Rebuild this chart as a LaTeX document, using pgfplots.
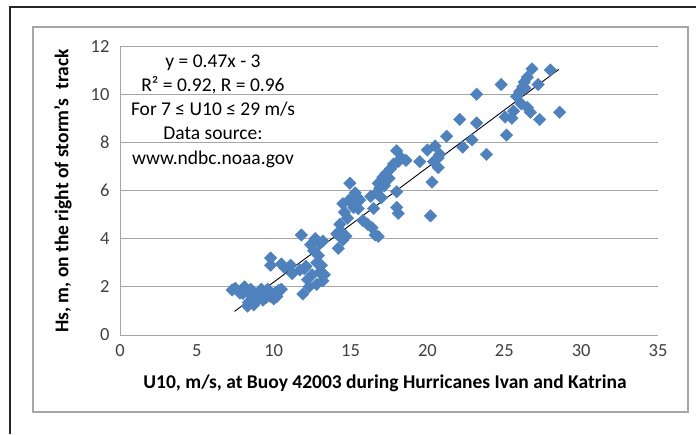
\documentclass[border=0pt]{standalone}
\usepackage{pgfplots}
\pgfplotsset{compat=1.18}
\usepackage{fontspec}
\setmainfont{Carlito}
\definecolor{ptblue}{HTML}{4F81BD}
\definecolor{gridgray}{HTML}{A6A6A6}

\begin{document}
\begin{tikzpicture}[x=1pt,y=1pt]
\path[use as bounding box] (0,0) rectangle (696,-434);
% outer frame and chart box
\draw[line width=2pt, black!85] (10,-434) -- (10,-7) -- (696,-7);
\draw[line width=1.5pt, gridgray] (33,-27) rectangle (688,-412);

\begin{axis}[
    at={(120pt,-335pt)}, anchor=south west,
    scale only axis, width=538pt, height=289pt,
    xmin=0, xmax=35, ymin=0, ymax=12,
    xtick={0,5,...,35}, ytick={0,2,...,12},
    axis x line*=bottom, axis y line*=left,
    axis line style={gridgray, line width=1pt, -},
    ymajorgrids=true,
    grid style={gridgray, line width=1pt},
    major tick length=0pt,
    tick label style={font=\fontsize{18.5}{22}\selectfont, text=black!75},
    xticklabel style={yshift=-6pt},
    yticklabel style={xshift=-7pt},
    /pgf/number format/assume math mode=true,
    clip=false,
]
\addplot[only marks, mark=square*, mark size=4.4pt,
    mark options={rotate=45, fill=ptblue, draw=ptblue}]
    coordinates {
    (7.3,1.87)(7.5,1.94)(7.8,1.74)(8.0,1.73)(8.1,2.0)(8.35,1.35)(8.5,1.9)
    (8.6,1.6)(8.9,1.45)(8.8,1.7)(9.2,1.9)(9.3,1.45)(9.5,1.55)(9.8,1.6)
    (8.3,1.2)(8.7,1.25)(9.0,1.6)(9.6,1.9)(10.0,1.5)(10.2,1.6)
    (10.1,1.75)(10.3,1.85)(10.5,1.9)(9.8,3.2)(9.8,2.9)(10.5,2.95)(10.7,2.8)
    (11.1,2.9)(11.2,2.55)(11.7,2.7)(11.8,4.15)(11.9,1.7)(12.1,2.85)(12.3,2.0)
    (12.6,3.5)(12.9,3.3)(13.1,2.9)(12.2,2.3)(12.0,2.75)
    (12.4,3.75)(12.5,2.5)(12.7,4.0)(12.8,2.1)(12.8,3.0)(13.0,3.8)(13.0,2.6)
    (13.2,2.25)(13.3,2.5)(13.2,3.9)(14.1,4.2)(14.2,3.6)(14.3,4.6)(14.5,3.95)
    (14.4,4.3)(14.7,4.1)(14.9,5.6)(15.3,5.9)(15.6,5.6)
    (14.5,5.45)(14.6,5.1)(14.8,4.85)(14.95,6.3)(15.1,5.55)(15.4,5.75)(15.5,5.25)
    (15.2,5.3)(15.8,4.75)(16.1,4.6)(16.3,5.75)(16.4,4.45)(16.5,5.25)(16.6,4.15)
    (16.8,4.1)(16.7,5.9)(16.8,6.3)(17.0,5.7)(17.1,6.55)(17.3,6.7)(17.6,6.9)
    (16.9,6.1)(17.2,6.2)(17.5,6.5)(17.8,7.1)(18.1,7.2)
    (18.0,7.65)(18.3,7.35)(18.6,7.25)(18.0,5.95)(18.0,5.3)(18.1,5.05)(19.5,7.2)
    (20.0,7.68)(20.5,7.85)(20.7,7.35)(20.4,7.2)(20.7,6.95)(20.3,6.35)(20.2,4.95)
    (20.8,7.5)(21.25,8.25)(22.1,8.95)(22.3,7.8)(22.9,8.1)(23.2,8.8)(23.2,10.0)
    (23.85,7.5)(24.8,10.4)(25.05,9.05)(25.15,8.3)(25.5,9.0)(25.6,9.3)(25.8,9.9)
    (26.0,10.1)(26.1,9.6)(26.3,10.5)(26.35,10.25)(26.5,9.45)(26.7,9.25)(26.8,11.05)
    (26.2,10.3)(26.5,10.7)
    (27.2,10.4)(27.3,8.95)(28.0,11.0)(28.6,9.25)
    };
\addplot[black, line width=0.9pt] coordinates {(7.45,0.98)(28.55,11.03)};
\end{axis}

\node[align=center, font=\fontsize{19.5}{24.3}\selectfont] at (213,-111)
    {y = 0.47x - 3\\R² = 0.92, R = 0.96\\For 7 ≤ U10 ≤ 29 m/s\\Data source:\\www.ndbc.noaa.gov};
\node[font=\fontsize{19.5}{23}\selectfont\bfseries] at (385,-383)
    {U10, m/s, at Buoy 42003 during Hurricanes Ivan and Katrina};
\node[font=\fontsize{19.5}{23}\selectfont\bfseries, rotate=90] at (63,-191)
    {Hs, m, on the right of storm's~ track};
\end{tikzpicture}
\end{document}
